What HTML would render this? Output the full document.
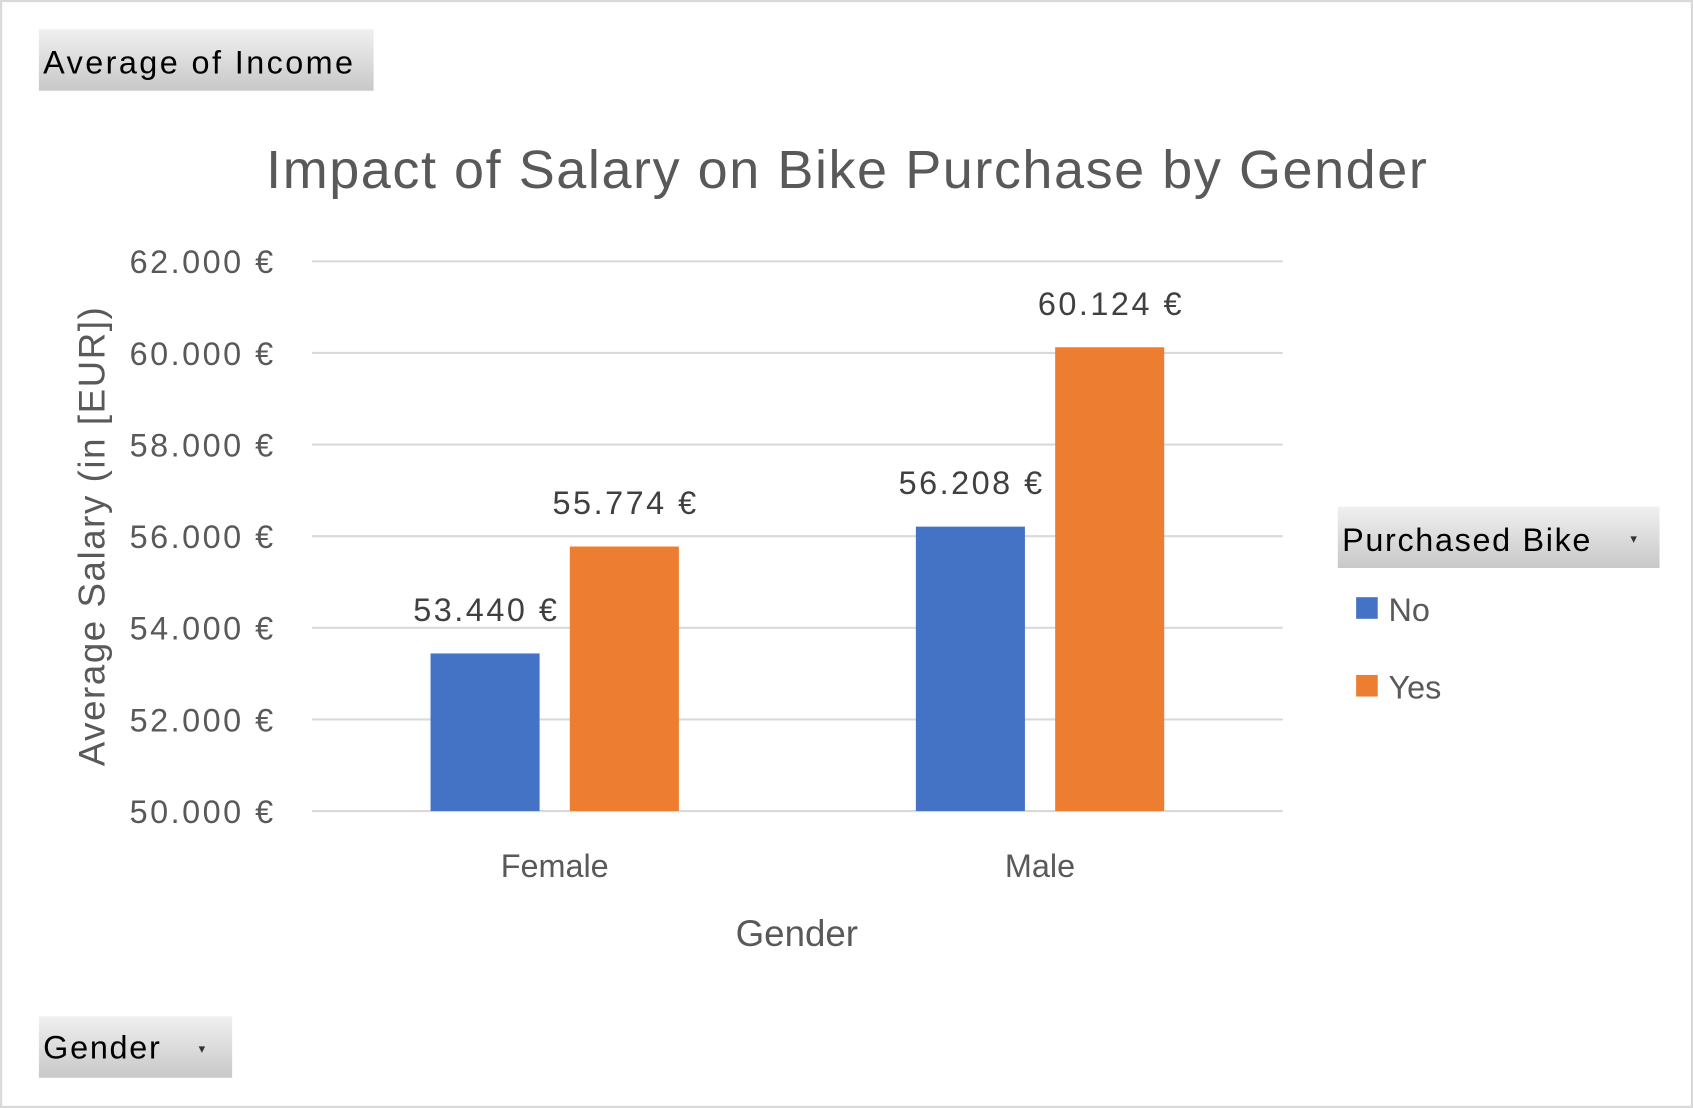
<!DOCTYPE html>
<html><head><meta charset="utf-8"><style>
html,body{margin:0;padding:0;background:#fff;}
svg{display:block;font-family:"Liberation Sans",sans-serif;}
</style></head><body>
<svg id="chart" width="1693" height="1108" viewBox="0 0 1568 1026" preserveAspectRatio="none">
<defs><linearGradient id="btn" x1="0" y1="0" x2="0" y2="1"><stop offset="0" stop-color="#f0f0f0"/><stop offset="1" stop-color="#c8c8c8"/></linearGradient></defs>
<rect x="1" y="1" width="1566" height="1024" fill="#fff" stroke="#d9d9d9" stroke-width="2"/>
<g><rect x="36" y="27" width="310" height="57" fill="url(#btn)"/><text x="40" y="68" font-size="30" fill="#000" textLength="287">Average of Income</text></g>
<text x="784" y="174" font-size="50" fill="#595959" text-anchor="middle" textLength="1075">Impact of Salary on Bike Purchase by Gender</text>
<g id="grid"></g><g id="bars"></g><g id="labels"></g>
<text transform="translate(97,497) rotate(-90)" font-size="34" fill="#595959" text-anchor="middle" textLength="425">Average Salary (in [EUR])</text>
<text x="738" y="876" font-size="34" fill="#595959" text-anchor="middle">Gender</text>
<g><rect x="1239" y="469" width="298" height="57" fill="url(#btn)"/><text x="1243" y="510" font-size="30" fill="#000" textLength="230">Purchased Bike</text><text x="1510" y="503" font-size="12" fill="#333">▾</text></g>
<g><rect x="1256" y="553" width="20" height="20" fill="#4472c4"/><text x="1286" y="575" font-size="30" fill="#595959">No</text></g>
<g><rect x="1256" y="625" width="20" height="20" fill="#ed7d31"/><text x="1286" y="647" font-size="30" fill="#595959">Yes</text></g>
<g><rect x="36" y="941" width="179" height="57" fill="url(#btn)"/><text x="40" y="980" font-size="30" fill="#000" textLength="108">Gender</text><text x="184" y="975" font-size="12" fill="#333">▾</text></g>
</svg>
<script>
const categories = ["Female", "Male"];
const seriesNo = [53440, 56208];
const seriesYes = [55774, 60124];
const yTicks = [50000, 52000, 54000, 56000, 58000, 60000, 62000];
const NS = "http://www.w3.org/2000/svg";
const x0 = 289, x1 = 1188, yMin = 50000, yMax = 62000, py0 = 751, py1 = 242;
function yS(v){ return py0 - (v - yMin) / (yMax - yMin) * (py0 - py1); }
function xC(i){ const w = (x1 - x0) / categories.length; return x0 + w * (i + 0.5); }
function fmt(v){ return v.toLocaleString("de-DE").replace(",", ".") + " €"; }
function mk(tag, attrs, parent, txt){ const e = document.createElementNS(NS, tag); for (const k in attrs) e.setAttribute(k, attrs[k]); if (txt !== undefined) e.textContent = txt; parent.appendChild(e); return e; }
const grid = document.getElementById("grid"), bars = document.getElementById("bars"), labels = document.getElementById("labels");
yTicks.forEach(t => {
  const l = mk("line", {x1: x0, x2: x1, y1: yS(t), y2: yS(t), stroke: "#d9d9d9", "stroke-width": 2}, grid);
  
  
  const tx = mk("text", {x: 253, y: yS(t) + 11, "font-size": 30, fill: "#595959", "text-anchor": "end", textLength: 133}, grid, fmt(t));
  
  
});
const bw = 101, gap = 28;
categories.forEach((c, i) => {
  const cx = xC(i);
  [[seriesNo[i], "#4472c4", cx - gap / 2 - bw, "no"], [seriesYes[i], "#ed7d31", cx + gap / 2, "yes"]].forEach(([v, col, bx, s]) => {
    const r = mk("rect", {x: bx, y: yS(v), width: bw, height: py0 - yS(v), fill: col}, bars);
    
    
    const t = mk("text", {x: bx + bw / 2, y: yS(v) - 30, "font-size": 30, fill: "#404040", "text-anchor": "middle", textLength: 133}, labels, fmt(v));
    
    
  });
  const ct = mk("text", {x: cx, y: 812, "font-size": 30, fill: "#595959", "text-anchor": "middle"}, labels, c);
  
  
});
</script>
</body></html>
